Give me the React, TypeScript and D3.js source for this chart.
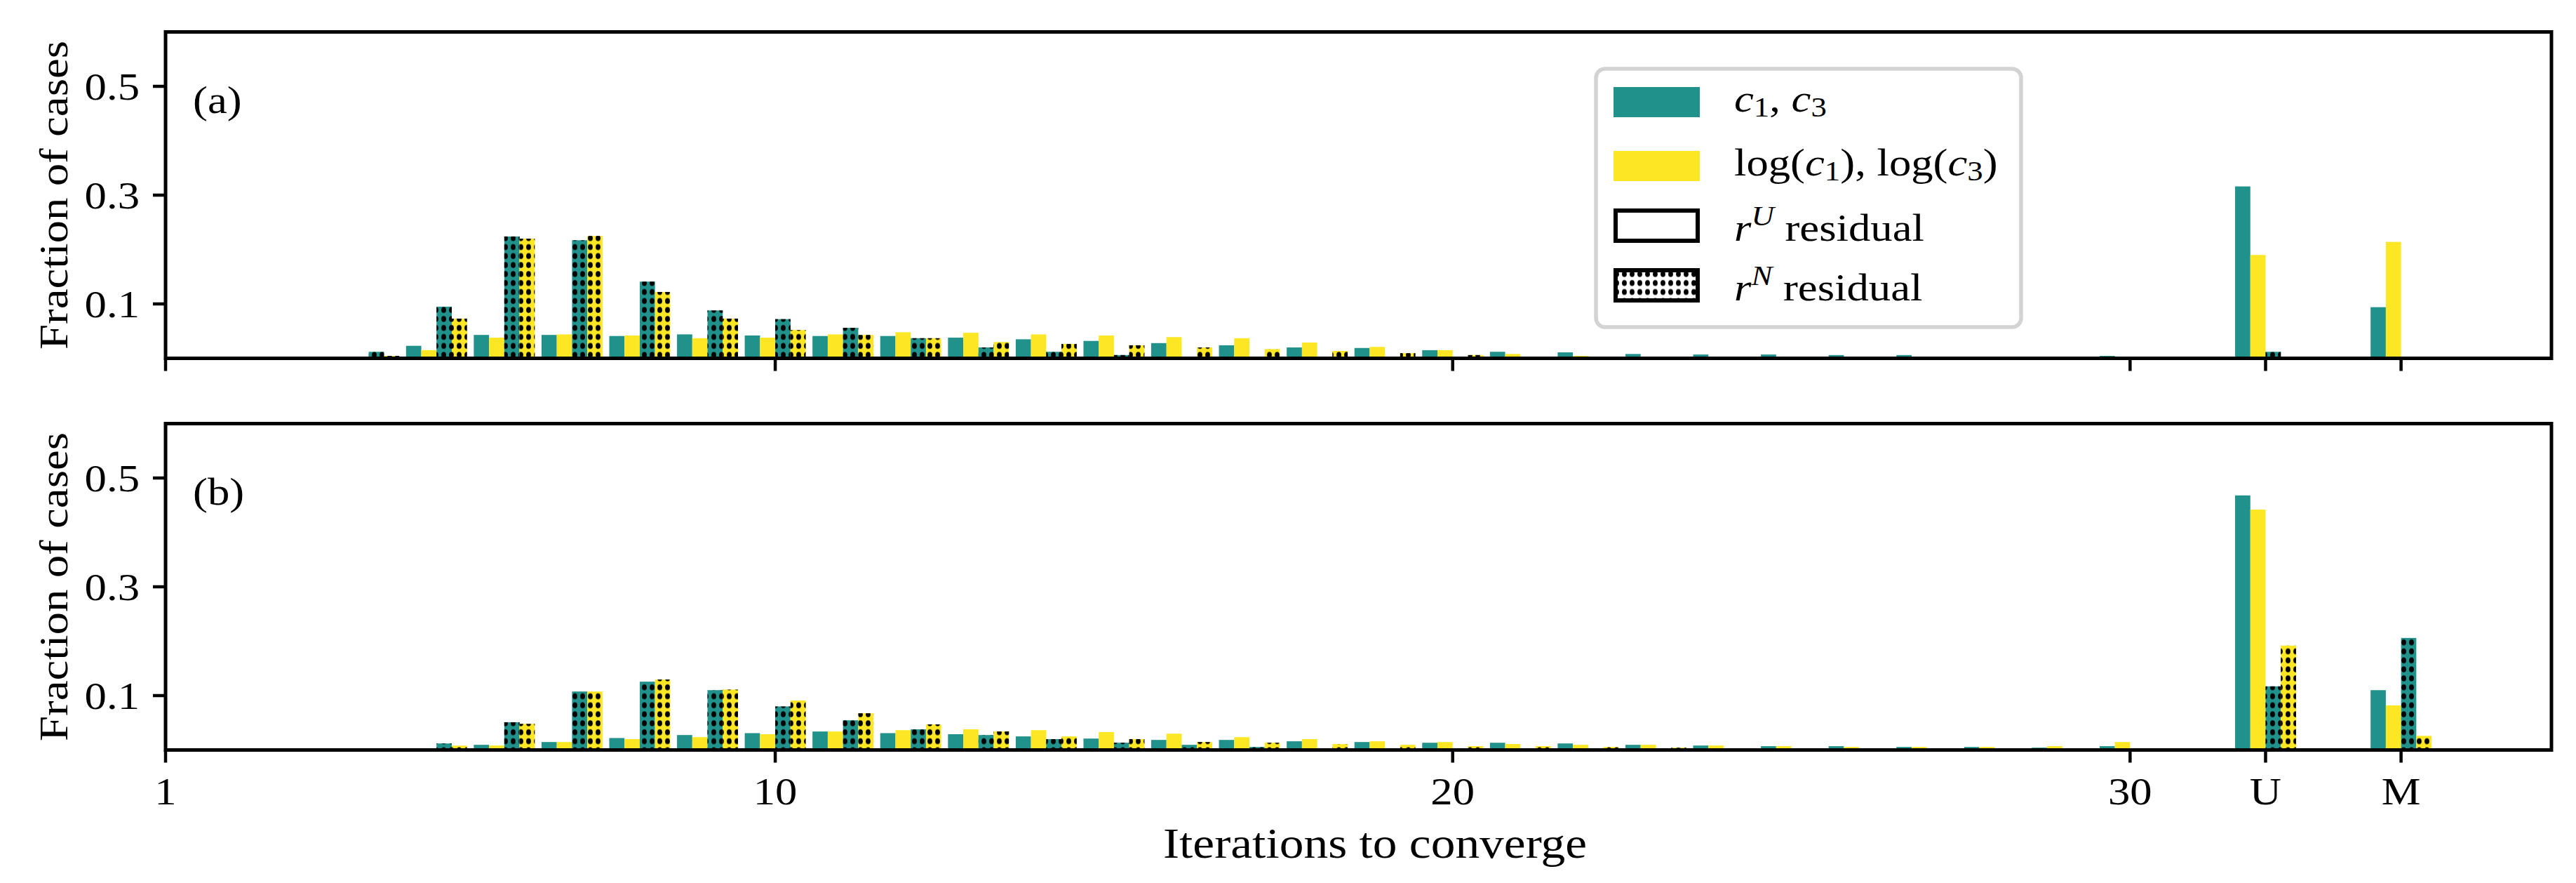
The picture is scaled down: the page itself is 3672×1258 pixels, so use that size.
import * as d3 from "d3";

// iterations shown on the x axis; "U" = unconverged, "M" = max iterations
const categories: (number | string)[] = [
  4, 5, 6, 7, 8, 9, 10, 11, 12, 13, 14, 15, 16, 17, 18, 19, 20, 21, 22, 23, 24, 25, 26, 27, 28, 29, 30, "U", "M",
];
const xTickLabels: (number | string)[] = [1, 10, 20, 30, "U", "M"];
const yTickValues = [0.1, 0.3, 0.5];

// panel (a)
const aTealU = [0, 0.023, 0.043, 0.043, 0.041, 0.044, 0.042, 0.041, 0.041, 0.038, 0.035, 0.032, 0.028, 0.024, 0.02, 0.019, 0.015, 0.012, 0.011, 0.008, 0.007, 0.007, 0.006, 0.006, 0, 0, 0.0045, 0.316, 0.094];
const aYellowU = [0, 0.015, 0.038, 0.044, 0.042, 0.037, 0.038, 0.044, 0.048, 0.047, 0.044, 0.042, 0.039, 0.037, 0.029, 0.021, 0.015, 0.008, 0.0045, 0, 0, 0, 0, 0, 0, 0, 0, 0.19, 0.214];
const aTealN = [0.012, 0.095, 0.224, 0.217, 0.141, 0.088, 0.072, 0.056, 0.037, 0.02, 0.012, 0.006, 0, 0, 0, 0, 0, 0, 0, 0, 0, 0, 0, 0, 0, 0, 0, 0.012, 0];
const aYellowN = [0.0045, 0.073, 0.22, 0.225, 0.122, 0.073, 0.052, 0.043, 0.037, 0.03, 0.0265, 0.024, 0.02, 0.017, 0.0135, 0.0095, 0.006, 0, 0, 0, 0, 0, 0, 0, 0, 0, 0, 0, 0];

// panel (b)
const bTealU = [0, 0, 0.0095, 0.0146, 0.022, 0.0275, 0.031, 0.034, 0.031, 0.029, 0.025, 0.021, 0.0185, 0.0185, 0.016, 0.0146, 0.0133, 0.0133, 0.012, 0.0095, 0.0082, 0.007, 0.007, 0.0056, 0.0056, 0.0043, 0.007, 0.468, 0.11];
const bYellowU = [0, 0, 0.0082, 0.0146, 0.02, 0.0236, 0.029, 0.034, 0.0365, 0.038, 0.0365, 0.033, 0.03, 0.0236, 0.02, 0.016, 0.0146, 0.011, 0.0095, 0.0095, 0.0082, 0.007, 0.0056, 0.0056, 0.0056, 0.007, 0.0146, 0.442, 0.082];
const bTealN = [0, 0.012, 0.051, 0.1075, 0.1256, 0.11, 0.08, 0.0546, 0.038, 0.0275, 0.02, 0.0133, 0.0095, 0.0056, 0, 0, 0, 0, 0, 0, 0, 0, 0, 0, 0, 0, 0, 0.117, 0.206];
const bYellowN = [0, 0.008, 0.048, 0.1075, 0.1295, 0.111, 0.091, 0.0675, 0.047, 0.034, 0.025, 0.02, 0.0146, 0.0133, 0.0108, 0.0095, 0.007, 0.007, 0.0056, 0.0043, 0, 0, 0, 0, 0, 0, 0, 0.192, 0.026];

const TEAL = "#21918c";
const YELLOW = "#fde725";
const FONT = "'Liberation Serif', 'Times New Roman', serif";
const SX = 1.12; // widen Times a bit towards Computer Modern proportions
const FS = 56;

const W = 3672;
const H = 1258;
const LEFT = 236;
const RIGHT = 3637;
const BAR_W = 0.225;

const catPos = (c: number | string) => (typeof c === "number" ? c : c === "U" ? 32 : 34);

const seriesStyle = [
  { color: TEAL, hatch: false, slot: -2 },
  { color: YELLOW, hatch: false, slot: -1 },
  { color: TEAL, hatch: true, slot: 0 },
  { color: YELLOW, hatch: true, slot: 1 },
];

const panels = [
  { label: "(a)", top: 45.5, bottom: 510.5, data: [aTealU, aYellowU, aTealN, aYellowN], xLabels: false },
  { label: "(b)", top: 603.5, bottom: 1068.5, data: [bTealU, bYellowU, bTealN, bYellowN], xLabels: true },
];

function T({ x, y, anchor = "start", size = FS, rotate = 0, children }: any) {
  return (
    <text
      transform={`translate(${x},${y}) rotate(${rotate}) scale(${SX},1)`}
      textAnchor={anchor}
      fontSize={size}
      fontFamily={FONT}
      fill="#000"
    >
      {children}
    </text>
  );
}

function Panel({ p, x }: any) {
  const y = d3.scaleLinear().domain([0, 0.6]).range([p.bottom, p.top]);
  const bw = x(1 + BAR_W) - x(1);
  return (
    <g>
      {p.data.map((vals: number[], si: number) => {
        const st = seriesStyle[si];
        return (
          <g key={si}>
            {vals.map((v, i) => {
              if (v <= 0) return null;
              const x0 = x(catPos(categories[i]) + st.slot * BAR_W);
              const y0 = y(v);
              const h = y(0) - y0;
              return (
                <g key={i}>
                  <rect x={x0} y={y0} width={bw} height={h} fill={st.color} />
                  {st.hatch && <rect x={x0} y={y0} width={bw} height={h} fill="url(#dots)" />}
                </g>
              );
            })}
          </g>
        );
      })}
      {/* spines */}
      <rect x={LEFT} y={p.top} width={RIGHT - LEFT} height={p.bottom - p.top} fill="none" stroke="#000" strokeWidth={5} />
      {yTickValues.map((t) => (
        <g key={t}>
          <line x1={LEFT - 18} x2={LEFT} y1={y(t)} y2={y(t)} stroke="#000" strokeWidth={4.5} />
          <T x={LEFT - 37} y={y(t) + 19} anchor="end">
            {String(t)}
          </T>
        </g>
      ))}
      {xTickLabels.map((t) => (
        <g key={t}>
          <line x1={x(catPos(t))} x2={x(catPos(t))} y1={p.bottom} y2={p.bottom + 18} stroke="#000" strokeWidth={4.5} />
          {p.xLabels && (
            <T x={x(catPos(t))} y={p.bottom + 77} anchor="middle">
              {String(t)}
            </T>
          )}
        </g>
      ))}
      <T x={96} y={(p.top + p.bottom) / 2} anchor="middle" rotate={-90} size={58}>
        Fraction of cases
      </T>
      <T x={275} y={p.top + 115} size={FS}>
        {p.label}
      </T>
    </g>
  );
}

function Legend() {
  const lx = 2300;
  const tx = 2472;
  const it = { fontStyle: "italic" } as const;
  return (
    <g>
      <rect x={2275} y={98} width={606} height={368} rx={13} fill="#fff" fillOpacity={0.8} stroke="#d3d3d3" strokeWidth={5.5} />
      <rect x={lx} y={124} width={123} height={43} fill={TEAL} />
      <rect x={lx} y={215} width={123} height={43} fill={YELLOW} />
      <rect x={lx + 3} y={300} width={117} height={43} fill="#fff" stroke="#000" strokeWidth={6} />
      <rect x={lx + 3} y={385} width={117} height={43} fill="#fff" stroke="#000" strokeWidth={6} />
      <rect x={lx + 3} y={385} width={117} height={43} fill="url(#dots)" />
      <T x={tx} y={159}>
        <tspan style={it}>c</tspan>
        <tspan dy={7} fontSize={40}>1</tspan>
        <tspan dy={-7}>, </tspan>
        <tspan style={it}>c</tspan>
        <tspan dy={7} fontSize={40}>3</tspan>
      </T>
      <T x={tx} y={250}>
        <tspan>log(</tspan>
        <tspan style={it}>c</tspan>
        <tspan dy={7} fontSize={40}>1</tspan>
        <tspan dy={-7}>), log(</tspan>
        <tspan style={it}>c</tspan>
        <tspan dy={7} fontSize={40}>3</tspan>
        <tspan dy={-7}>)</tspan>
      </T>
      <T x={tx} y={343}>
        <tspan style={it}>r</tspan>
        <tspan dy={-22} fontSize={40} style={it}>U</tspan>
        <tspan dy={22}> residual</tspan>
      </T>
      <T x={tx} y={428}>
        <tspan style={it}>r</tspan>
        <tspan dy={-22} fontSize={40} style={it}>N</tspan>
        <tspan dy={22}> residual</tspan>
      </T>
    </g>
  );
}

export default function App() {
  const x = d3.scaleLinear().domain([1, 36.22]).range([LEFT, RIGHT]);
  return (
    <>
      <style>{`body{margin:0}`}</style>
      <svg width={W} height={H} viewBox={`0 0 ${W} ${H}`} style={{ display: "block", background: "#fff" }}>
        <defs>
          <pattern id="dots" patternUnits="userSpaceOnUse" width={11} height={12.8}>
            <ellipse cx={5.5} cy={6.4} rx={3.4} ry={4.3} fill="#000" />
          </pattern>
        </defs>
        <rect width={W} height={H} fill="#fff" />
        {panels.map((p) => (
          <Panel key={p.label} p={p} x={x} />
        ))}
        <Legend />
        <T x={1960} y={1222} anchor="middle" size={62}>
          Iterations to converge
        </T>
      </svg>
    </>
  );
}
